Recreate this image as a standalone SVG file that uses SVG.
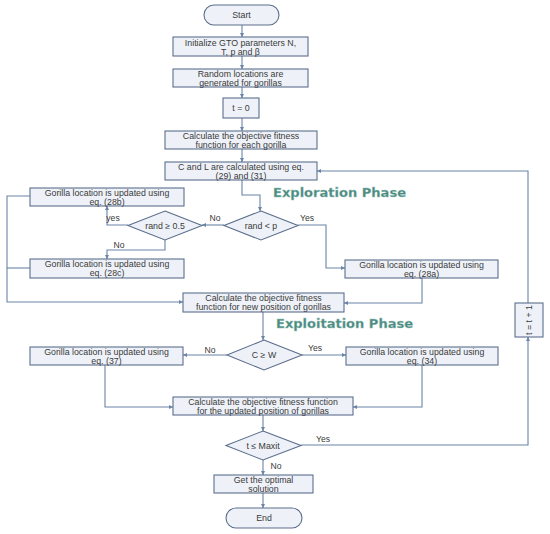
<svg xmlns="http://www.w3.org/2000/svg" width="550" height="534" viewBox="0 0 550 534">
<defs>
<style>
.box{fill:#eef2f8;stroke:#5b6e8c;stroke-width:1.1;}
.t{font-family:"Liberation Sans",Arial,sans-serif;font-size:8.8px;fill:#3a3a3a;text-anchor:middle;}
.lbl{font-family:"Liberation Sans",Arial,sans-serif;font-size:8.6px;fill:#3a3a3a;text-anchor:middle;}
.ph{font-family:"DejaVu Sans","Liberation Sans",sans-serif;font-weight:bold;font-size:12.5px;fill:#4a8a80;stroke:#9cc4bc;stroke-width:0.3;}
.c{fill:none;stroke:#6a84a8;stroke-width:1.1;marker-end:url(#ah);}
.cn{fill:none;stroke:#6a84a8;stroke-width:1.1;}
</style>
<marker id="ah" viewBox="0 0 6 6" refX="6" refY="3" markerWidth="4" markerHeight="4" orient="auto">
<path d="M0,0 L6,3 L0,6 z" fill="#6a84a8"/>
</marker>
</defs>
<rect width="550" height="534" fill="#ffffff"/>

<g id="connectors">
<path class="c" d="M242,25 V37"/>
<path class="c" d="M242,56 V69"/>
<path class="c" d="M242,87 V98"/>
<path class="c" d="M242,118 V131"/>
<path class="c" d="M242,149 V162"/>
<path class="c" d="M242,180 V195 H260 V211"/>
<path class="c" d="M224,225 H202"/>
<path class="c" d="M128,225 H107 V206"/>
<path class="c" d="M165,240 V250 H107 V259"/>
<path class="c" d="M298,225 H326 V268 H345"/>
<path class="c" d="M30,196 H7 V302 H183"/>
<path class="cn" d="M30,268 H7"/>
<path class="c" d="M422,278 V303 H344"/>
<path class="c" d="M263,312 V340"/>
<path class="c" d="M227,355 H183"/>
<path class="c" d="M302,355 H346"/>
<path class="c" d="M105,365 V407 H173"/>
<path class="c" d="M422,365 V407 H353"/>
<path class="c" d="M263,415 V431"/>
<path class="c" d="M301,445 H528 V337"/>
<path class="c" d="M528,303 V171 H317"/>
<path class="c" d="M263,460 V475"/>
<path class="c" d="M263,493 V508"/>
</g>

<g id="labels">
<text class="lbl" x="215" y="221">No</text>
<text class="lbl" x="113" y="221">yes</text>
<text class="lbl" x="119" y="248">No</text>
<text class="lbl" x="307" y="221">Yes</text>
<text class="lbl" x="210" y="353">No</text>
<text class="lbl" x="315" y="351">Yes</text>
<text class="lbl" x="323" y="442">Yes</text>
<text class="lbl" x="276" y="469">No</text>
<text class="ph" x="273" y="197" textLength="133" lengthAdjust="spacingAndGlyphs">Exploration Phase</text>
<text class="ph" x="276" y="328" textLength="137" lengthAdjust="spacingAndGlyphs">Exploitation Phase</text>
</g>

<g id="start">
<rect x="204" y="5" width="75" height="20" rx="10" class="box"/>
<text class="t" x="241.5" y="18.2">Start</text>
</g>
<g id="init">
<rect x="173" y="37" width="135" height="19" class="box"/>
<text class="t" x="240.5" y="45.5">Initialize GTO parameters N,</text>
<text class="t" x="240.5" y="54.5">T, p and β</text>
</g>
<g id="random">
<rect x="173" y="69" width="135" height="18" class="box"/>
<text class="t" x="240.5" y="77">Random locations are</text>
<text class="t" x="240.5" y="85.8">generated for gorillas</text>
</g>
<g id="t0">
<rect x="223" y="98" width="36" height="20" class="box"/>
<text class="t" x="241" y="111.2">t = 0</text>
</g>
<g id="calc1">
<rect x="165" y="131" width="152" height="18" class="box"/>
<text class="t" x="241" y="139">Calculate the objective fitness</text>
<text class="t" x="241" y="147.8">function for each gorilla</text>
</g>
<g id="cl">
<rect x="165" y="162" width="152" height="18" class="box"/>
<text class="t" x="241" y="170">C and L are calculated using eq.</text>
<text class="t" x="241" y="178.8">(29) and (31)</text>
</g>
<g id="g28b">
<rect x="30" y="188" width="154" height="18" class="box"/>
<text class="t" x="107" y="196">Gorilla location is updated using</text>
<text class="t" x="107" y="204.8">eq. (28b)</text>
</g>
<g id="rand05">
<polygon points="165,211 202,225.5 165,240 128,225.5" class="box"/>
<text class="t" x="165" y="228.6">rand ≥ 0.5</text>
</g>
<g id="randp">
<polygon points="261,211 298,225.5 261,240 224,225.5" class="box"/>
<text class="t" x="261" y="228.6">rand &lt; p</text>
</g>
<g id="g28c">
<rect x="30" y="259" width="154" height="19" class="box"/>
<text class="t" x="107" y="267.3">Gorilla location is updated using</text>
<text class="t" x="107" y="276.2">eq. (28c)</text>
</g>
<g id="g28a">
<rect x="345" y="260" width="153" height="18" class="box"/>
<text class="t" x="421.5" y="268">Gorilla location is updated using</text>
<text class="t" x="421.5" y="276.8">eq. (28a)</text>
</g>
<g id="calc2">
<rect x="183" y="293" width="161" height="19" class="box"/>
<text class="t" x="263.5" y="301.3">Calculate the objective fitness</text>
<text class="t" x="263.5" y="310.2">function for new position of gorillas</text>
</g>
<g id="cw">
<polygon points="264,340 302,355 264,370 227,355" class="box"/>
<text class="t" x="264" y="358.1">C ≥ W</text>
</g>
<g id="g37">
<rect x="30" y="347" width="153" height="18" class="box"/>
<text class="t" x="106.5" y="355">Gorilla location is updated using</text>
<text class="t" x="106.5" y="363.8">eq. (37)</text>
</g>
<g id="g34">
<rect x="346" y="347" width="152" height="18" class="box"/>
<text class="t" x="422" y="355">Gorilla location is updated using</text>
<text class="t" x="422" y="363.8">eq. (34)</text>
</g>
<g id="calc3">
<rect x="173" y="397" width="180" height="18" class="box"/>
<text class="t" x="263" y="405">Calculate the objective fitness function</text>
<text class="t" x="263" y="413.8">for the updated position of gorillas</text>
</g>
<g id="maxit">
<polygon points="263,431 301,445.5 263,460 226,445.5" class="box"/>
<text class="t" x="263" y="448.6">t ≤ Maxit</text>
</g>
<g id="tinc">
<rect x="515" y="303" width="28" height="34" class="box"/>
<text class="t" transform="translate(532,320) rotate(-90)" x="0" y="0">t = t + 1</text>
</g>
<g id="get">
<rect x="214" y="475" width="99" height="18" class="box"/>
<text class="t" x="263.5" y="483">Get the optimal</text>
<text class="t" x="263.5" y="491.8">solution</text>
</g>
<g id="end">
<rect x="226" y="508" width="76" height="20" rx="10" class="box"/>
<text class="t" x="264" y="521.2">End</text>
</g>
</svg>
